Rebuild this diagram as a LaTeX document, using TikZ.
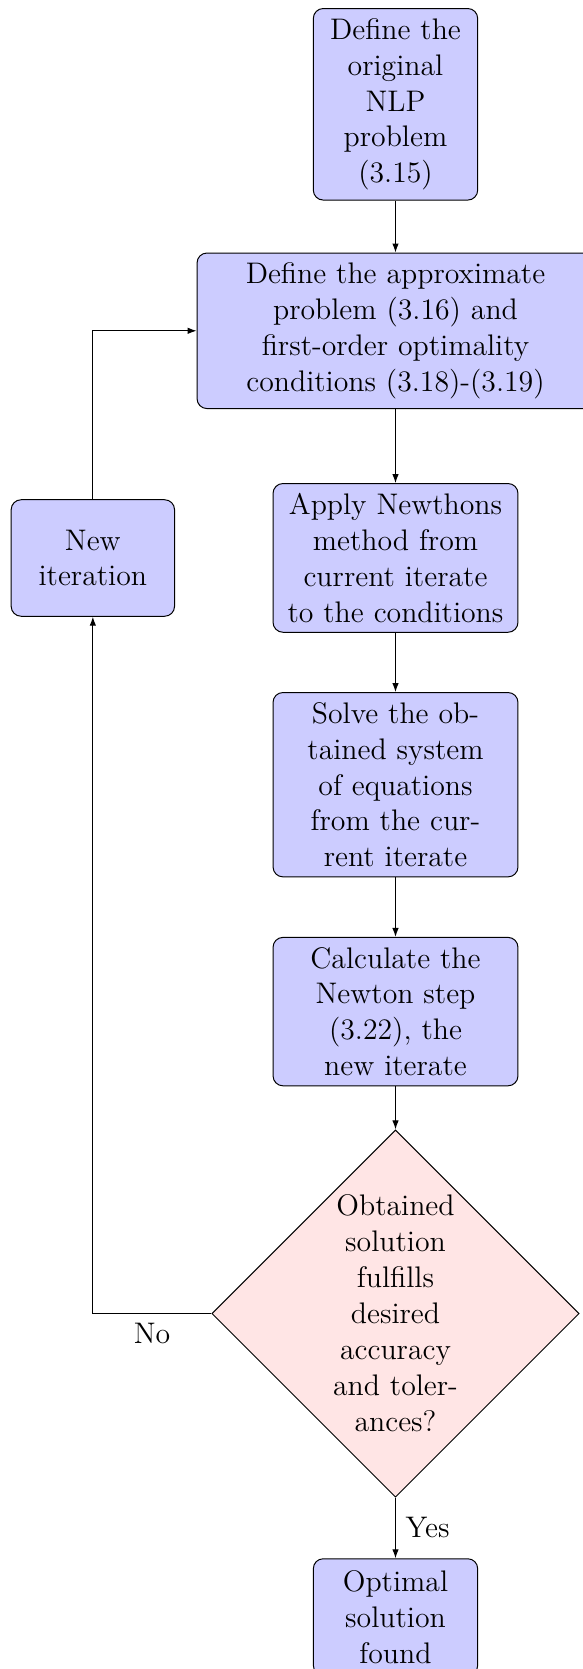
\documentclass[tikz,border=0pt]{standalone}
\usetikzlibrary{shapes.geometric,arrows.meta}
\begin{document}
\begin{tikzpicture}[x=0.4034pt,y=-0.4034pt,
  every node/.style={font=\fontsize{12}{14.5}\selectfont},
  block/.style={rectangle, draw=black, fill=blue!20, rounded corners=4pt,
    align=center, inner sep=3.9pt, minimum height=47pt},
  decision/.style={diamond, draw=black, fill=red!10, aspect=1,
    align=center, inner sep=0pt, text width=52.6pt},
  conn/.style={draw=black, -{Latex[length=3.6pt,width=2.6pt]}},
  lbl/.style={inner sep=3.9pt}]
\useasboundingbox (0,0) rectangle (583,1669);
\node[block, text width=58.5pt] (orig) at (395.5,104.3)
  {Define the\\original\\NLP\\problem\\(3.15)};
\node[block, text width=152.3pt] (approx) at (395.5,330.8)
  {Define the approximate\\problem (3.16) and\\first-order optimality\\conditions (3.18)-(3.19)};
\node[block, text width=91pt] (newton) at (395.5,557.9)
  {Apply Newthons\\method from\\current iterate\\to the conditions};
\node[block, text width=91pt] (solve) at (395.5,784.7)
  {Solve the ob-\\tained system\\of equations\\from the cur-\\rent iterate};
\node[block, text width=91pt] (calc) at (395.5,1011.6)
  {Calculate the\\Newton step\\(3.22), the\\new iterate};
\node[decision] (dec) at (395.5,1313.5)
  {Obtained\\solution\\fulfills\\desired\\accuracy\\and toler-\\ances?};
\node[block, text width=58.5pt] (stop) at (395.5,1617)
  {Optimal\\solution\\found};
\node[block, text width=58.1pt] (iter) at (92.85,558)
  {New\\iteration};
\path[conn] (orig) -- (approx);
\path[conn] (approx) -- (newton);
\path[conn] (newton) -- (solve);
\path[conn] (solve) -- (calc);
\path[conn] (calc) -- (dec);
\path[conn] (dec) -- node[lbl, right] {Yes} (stop);
\path[conn] (dec.west) -| node[lbl, pos=0.25, below] {No} (iter.south);
\path[conn] (iter.north) |- (approx.west);
\end{tikzpicture}
\end{document}
